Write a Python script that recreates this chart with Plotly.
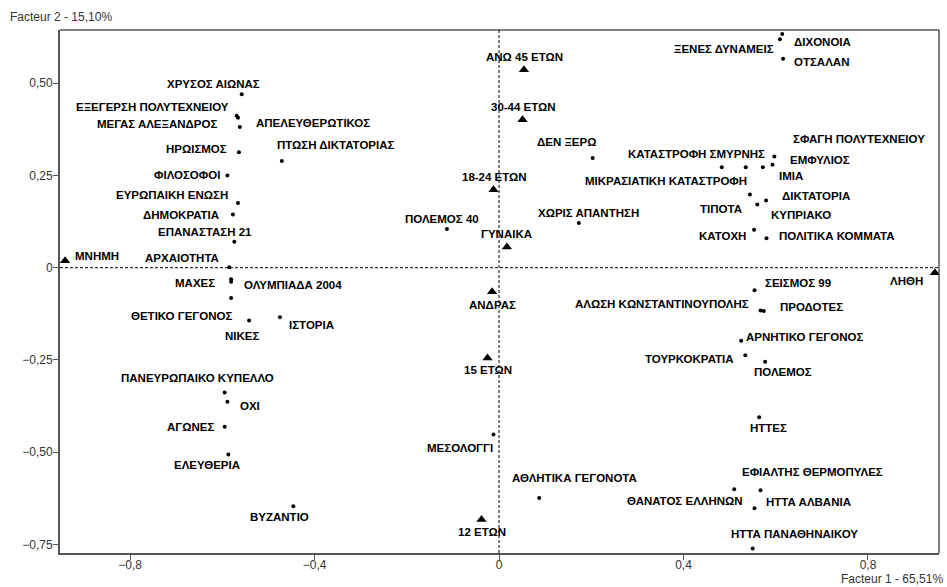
import plotly.graph_objects as go

# Modalités (points) et variables supplémentaires (triangles)
POINT_LABELS = [
    "ΧΡΥΣΟΣ ΑΙΩΝΑΣ", "ΕΞΕΓΕΡΣΗ ΠΟΛΥΤΕΧΝΕΙΟΥ", "ΜΕΓΑΣ ΑΛΕΞΑΝΔΡΟΣ", "ΑΠΕΛΕΥΘΕΡΩΤΙΚΟΣ",
    "ΗΡΩΙΣΜΟΣ", "ΠΤΩΣΗ ΔΙΚΤΑΤΟΡΙΑΣ", "ΦΙΛΟΣΟΦΟΙ", "ΕΥΡΩΠΑΙΚΗ ΕΝΩΣΗ", "ΔΗΜΟΚΡΑΤΙΑ",
    "ΕΠΑΝΑΣΤΑΣΗ 21", "ΑΡΧΑΙΟΤΗΤΑ", "ΜΑΧΕΣ", "ΟΛΥΜΠΙΑΔΑ 2004", "ΘΕΤΙΚΟ ΓΕΓΟΝΟΣ",
    "ΝΙΚΕΣ", "ΙΣΤΟΡΙΑ", "ΠΑΝΕΥΡΩΠΑΙΚΟ ΚΥΠΕΛΛΟ", "ΟΧΙ", "ΑΓΩΝΕΣ", "ΕΛΕΥΘΕΡΙΑ",
    "ΒΥΖΑΝΤΙΟ", "ΔΕΝ ΞΕΡΩ", "ΠΟΛΕΜΟΣ 40", "ΧΩΡΙΣ ΑΠΑΝΤΗΣΗ", "ΜΕΣΟΛΟΓΓΙ",
    "ΑΘΛΗΤΙΚΑ ΓΕΓΟΝΟΤΑ", "ΞΕΝΕΣ ΔΥΝΑΜΕΙΣ", "ΔΙΧΟΝΟΙΑ", "ΟΤΣΑΛΑΝ",
    "ΣΦΑΓΗ ΠΟΛΥΤΕΧΝΕΙΟΥ", "ΕΜΦΥΛΙΟΣ", "ΚΑΤΑΣΤΡΟΦΗ ΣΜΥΡΝΗΣ", "ΜΙΚΡΑΣΙΑΤΙΚΗ ΚΑΤΑΣΤΡΟΦΗ",
    "ΙΜΙΑ", "ΔΙΚΤΑΤΟΡΙΑ", "ΤΙΠΟΤΑ", "ΚΥΠΡΙΑΚΟ", "ΚΑΤΟΧΗ", "ΠΟΛΙΤΙΚΑ ΚΟΜΜΑΤΑ",
    "ΣΕΙΣΜΟΣ 99", "ΑΛΩΣΗ ΚΩΝΣΤΑΝΤΙΝΟΥΠΟΛΗΣ", "ΠΡΟΔΟΤΕΣ", "ΑΡΝΗΤΙΚΟ ΓΕΓΟΝΟΣ",
    "ΤΟΥΡΚΟΚΡΑΤΙΑ", "ΠΟΛΕΜΟΣ", "ΗΤΤΕΣ", "ΕΦΙΑΛΤΗΣ ΘΕΡΜΟΠΥΛΕΣ", "ΘΑΝΑΤΟΣ ΕΛΛΗΝΩΝ",
    "ΗΤΤΑ ΑΛΒΑΝΙΑ", "ΗΤΤΑ ΠΑΝΑΘΗΝΑΙΚΟΥ",
]
POINT_F1 = [
    -0.558, -0.569, -0.562, -0.566, -0.564, -0.471, -0.589, -0.566, -0.577,
    -0.574, -0.585, -0.581, -0.581, -0.581, -0.542, -0.475, -0.595, -0.589, -0.595, -0.587,
    -0.446, 0.203, -0.113, 0.173, -0.012, 0.087, 0.609, 0.614, 0.616,
    0.597, 0.593, 0.483, 0.535, 0.572, 0.579, 0.544, 0.560, 0.553, 0.580,
    0.554, 0.567, 0.574, 0.525, 0.534, 0.577, 0.564, 0.567, 0.510, 0.554, 0.550,
]
POINT_F2 = [
    0.470, 0.412, 0.381, 0.406, 0.313, 0.289, 0.250, 0.175, 0.144,
    0.070, 0.001, -0.031, -0.038, -0.082, -0.143, -0.134, -0.338, -0.363, -0.431, -0.506,
    -0.646, 0.297, 0.105, 0.121, -0.452, -0.624, 0.619, 0.633, 0.566,
    0.301, 0.279, 0.272, 0.272, 0.272, 0.182, 0.198, 0.171, 0.103, 0.080,
    -0.061, -0.116, -0.117, -0.198, -0.237, -0.255, -0.405, -0.603, -0.600, -0.652, -0.761,
]

SUPP_LABELS = ["ΜΝΗΜΗ", "ΑΝΩ 45 ΕΤΩΝ", "30-44 ΕΤΩΝ", "18-24 ΕΤΩΝ", "ΓΥΝΑΙΚΑ",
               "ΑΝΔΡΑΣ", "15 ΕΤΩΝ", "12 ΕΤΩΝ", "ΛΗΘΗ"]
SUPP_F1 = [-0.941, 0.054, 0.051, -0.012, 0.017, -0.015, -0.025, -0.038, 0.945]
SUPP_F2 = [0.019, 0.536, 0.401, 0.211, 0.056, -0.065, -0.245, -0.682, -0.014]

X_TICKS = [-0.8, -0.4, 0, 0.4, 0.8]
X_TICKTEXT = ["−0,8", "−0,4", "0", "0,4", "0,8"]
Y_TICKS = [-0.75, -0.5, -0.25, 0, 0.25, 0.5]
Y_TICKTEXT = ["−0,75", "−0,50", "−0,25", "0", "0,25", "0,50"]

# Placement des étiquettes : (ancrage x, décalage x px, décalage y px)
POINT_POS = [
    ("center", -28, 10), ("right", -6, 9), ("right", -21, 3), ("left", 16, -5),
    ("right", -10, 3), ("left", -7, 16), ("right", -5, 0), ("right", -8, 8), ("right", -12, 0),
    ("center", -29, 10), ("right", -8, 9), ("right", -14, -4), ("left", 11, -3), ("right", 3, -18),
    ("center", -7, -16), ("left", 7, -8), ("center", -27, 14), ("left", 11, -4), ("right", -9, 0),
    ("center", -21, -11),
    ("center", -14, -11), ("center", -26, 16), ("center", -5, 10), ("center", 10, 10),
    ("center", -34, -13),
    ("center", 35, 20), ("right", -4, -10), ("left", 10, -8), ("left", 9, -3),
    ("left", 17, 18), ("left", 15, 5), ("center", -25, 13), ("right", 3, -14),
    ("left", 14, -9), ("left", 14, 5), ("right", -6, -14), ("left", 12, -10), ("right", -6, -6),
    ("left", 10, 2),
    ("left", 8, 7), ("right", -10, 7), ("left", 14, 4), ("left", 3, 4),
    ("right", -9, -4), ("center", 18, -10), ("center", 9, -11), ("left", -21, 18),
    ("right", 11, -12), ("left", 9, 6), ("center", 42, 15),
]
SUPP_POS = [("left", 8, 5), ("center", 1, 13), ("center", 1, 13), ("center", 1, 13),
            ("center", 0, 13), ("center", 0, -13), ("center", 0, -12), ("center", 0, -13),
            ("right", -10, -8)]

LABEL_FONT = dict(family="Liberation Sans Narrow, Arial Narrow, Liberation Sans, Arial",
                  size=11.5, color="black")
TICK_FONT = dict(family="Liberation Sans, Arial", size=12, color="#333")

fig = go.Figure()
fig.add_trace(go.Scatter(x=POINT_F1, y=POINT_F2, mode="markers", text=POINT_LABELS,
                         marker=dict(symbol="circle", size=4, color="black"),
                         hoverinfo="text"))
fig.add_trace(go.Scatter(x=SUPP_F1, y=SUPP_F2, mode="markers", text=SUPP_LABELS,
                         marker=dict(symbol="triangle-up", size=9, color="black"),
                         hoverinfo="text"))

for labels, xs, ys, pos in [(POINT_LABELS, POINT_F1, POINT_F2, POINT_POS),
                            (SUPP_LABELS, SUPP_F1, SUPP_F2, SUPP_POS)]:
    for lab, x, y, (anchor, dx, dy) in zip(labels, xs, ys, pos):
        fig.add_annotation(x=x, y=y, text=f"<b>{lab}</b>", showarrow=False,
                           xanchor=anchor, yanchor="middle", xshift=dx, yshift=dy,
                           font=LABEL_FONT)

# Axes de référence (pointillés) et cadre haut/droit
fig.add_hline(y=0, line=dict(color="black", width=1, dash="3px,2px"))
fig.add_vline(x=0, line=dict(color="black", width=1, dash="3px,2px"))
fig.add_shape(type="line", xref="paper", yref="paper", x0=0, x1=1, y0=1, y1=1,
              line=dict(color="black", width=1))
fig.add_shape(type="line", xref="paper", yref="paper", x0=1, x1=1, y0=0, y1=1,
              line=dict(color="black", width=1))

fig.add_annotation(text="Facteur 2 - 15,10%", xref="paper", yref="paper", x=-0.059, y=1.025,
                   xanchor="left", yanchor="middle", showarrow=False, font=TICK_FONT)
fig.add_annotation(text="Facteur 1 - 65,51%", xref="paper", yref="paper", x=1.007, y=-0.049,
                   xanchor="right", yanchor="middle", showarrow=False, font=TICK_FONT)

axis_style = dict(showgrid=False, zeroline=False, showline=True, linecolor="#555",
                  linewidth=2, ticks="outside", ticklen=5, tickcolor="#555",
                  tickfont=TICK_FONT)
fig.update_xaxes(range=[-0.952, 0.954], tickvals=X_TICKS, ticktext=X_TICKTEXT,
                 ticklabelstandoff=-5, **axis_style)
fig.update_yaxes(range=[-0.773, 0.644], tickvals=Y_TICKS, ticktext=Y_TICKTEXT,
                 ticklabelstandoff=-2, **axis_style)

fig.update_layout(width=947, height=587, showlegend=False, template="plotly_white",
                  plot_bgcolor="white", paper_bgcolor="white",
                  margin=dict(l=60, r=8, t=30, b=34))

# La page s'ouvre à 947x587 : on retire la marge par défaut du <body>
fig.write_html("out.html", config={"displayModeBar": False},
               post_script="document.body.style.margin='0';")
